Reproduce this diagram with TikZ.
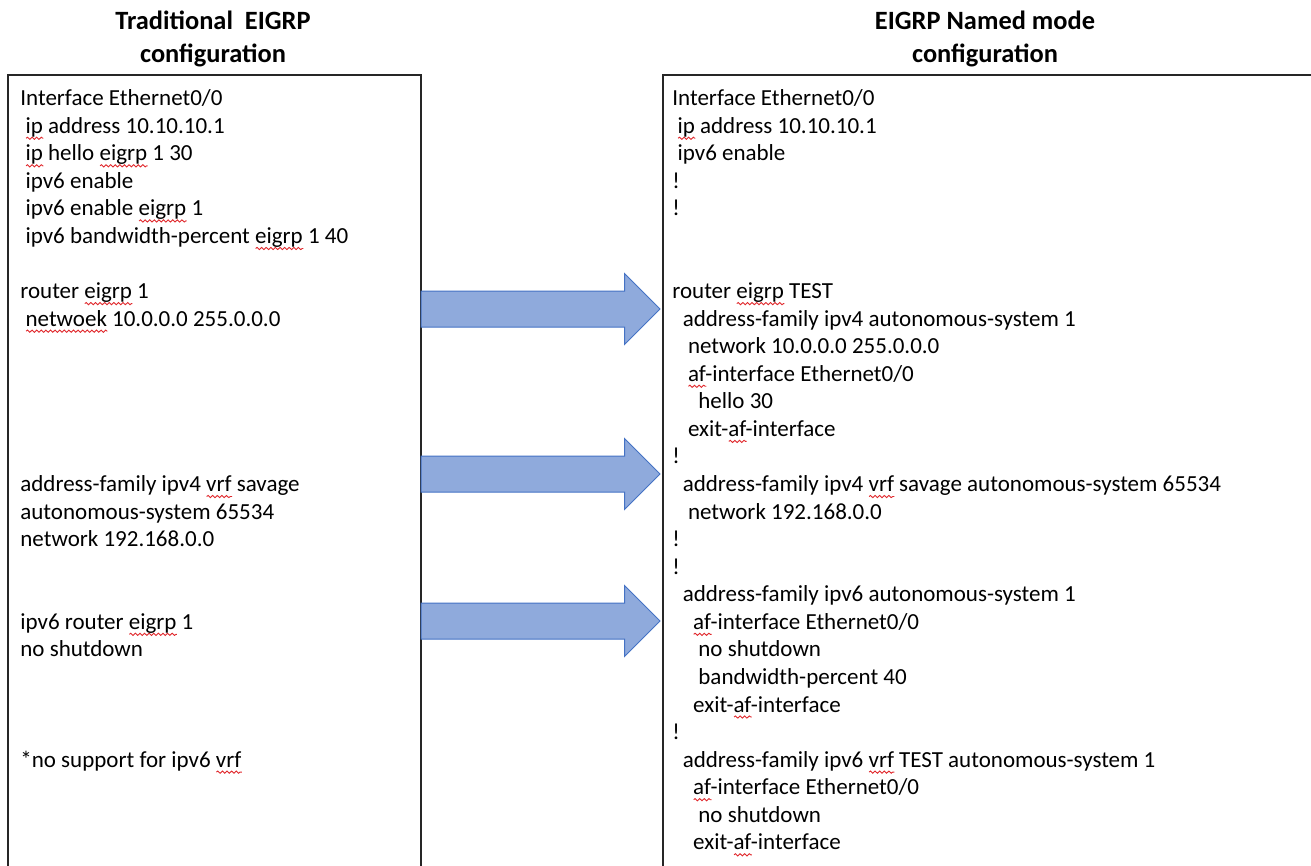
\documentclass[tikz,border=0pt]{standalone}
\usepackage{fontspec}
\setmainfont{Carlito}
\usepackage{xcolor}
\usepackage{tikz}
\usetikzlibrary{shapes.arrows,decorations.pathmorphing}
\definecolor{ArrowFill}{HTML}{8FAADC}
\definecolor{ArrowLine}{HTML}{4472C4}
\definecolor{WaveRed}{HTML}{E0282C}
\newsavebox{\wordbox}
\newlength{\wordlen}
\newcommand{\spell}[1]{\sbox{\wordbox}{#1}\setlength{\wordlen}{\wd\wordbox}%
  \rlap{\tikz[baseline=0pt]\draw[WaveRed,line width=0.45pt,decorate,decoration={snake,amplitude=0.55pt,segment length=2.3pt}] (0pt,-2.5pt) -- (\wordlen,-2.5pt);}#1}
\newcommand{\ind}[1]{\hspace*{#1\fontdimen2\font}}

\begin{document}
\begin{tikzpicture}[x=0.5pt,y=-0.5pt,
  frame/.style={draw=black!85,line width=0.9pt},
  head/.style={font=\bfseries\fontsize{13.2pt}{16.4pt}\selectfont,align=center,inner sep=0pt,anchor=north},
  code/.style={font=\fontsize{11.5pt}{13.78pt}\selectfont,align=left,inner sep=0pt,anchor=north west},
  blk/.style={single arrow,fill=ArrowFill,draw=ArrowLine,line width=0.5pt,inner xsep=0pt,inner ysep=8.75pt,single arrow head extend=8.75pt,minimum height=119.5pt,outer sep=0pt,anchor=tail}]
\useasboundingbox (0,0) rectangle (1311,866);
\clip (0,0) rectangle (1311,866);
\node[head] (tradhd) at (213,6) {\strut Traditional\ \ EIGRP\\configuration};
\node[head] (namedhd) at (985,6) {\strut EIGRP Named mode\\configuration};
\draw[frame] (8,75) rectangle (421,900);
\draw[frame] (663,75) rectangle (1330,900);
\node[code] (trad) at (20,86) {\strut Interface Ethernet0/0\\
\ind{1}\spell{ip} address 10.10.10.1\\
\ind{1}\spell{ip} hello \spell{eigrp} 1 30\\
\ind{1}ipv6 enable\\
\ind{1}ipv6 enable \spell{eigrp} 1\\
\ind{1}ipv6 bandwidth-percent \spell{eigrp} 1 40\\
\mbox{}\\
router \spell{eigrp} 1\\
\ind{1}\spell{netwoek} 10.0.0.0 255.0.0.0\\
\mbox{}\\
\mbox{}\\
\mbox{}\\
\mbox{}\\
\mbox{}\\
address-family ipv4 \spell{vrf} savage\\
autonomous-system 65534\\
network 192.168.0.0\\
\mbox{}\\
\mbox{}\\
ipv6 router \spell{eigrp} 1\\
no shutdown\\
\mbox{}\\
\mbox{}\\
\mbox{}\\
*no support for ipv6 \spell{vrf}};
\node[code] (named) at (672,86) {\strut Interface Ethernet0/0\\
\ind{1}\spell{ip} address 10.10.10.1\\
\ind{1}ipv6 enable\\
!\\
!\\
\mbox{}\\
\mbox{}\\
router \spell{eigrp} TEST\\
\ind{2}address-family ipv4 autonomous-system 1\\
\ind{3}network 10.0.0.0 255.0.0.0\\
\ind{3}\spell{af}-interface Ethernet0/0\\
\ind{5}hello 30\\
\ind{3}exit-\spell{af}-interface\\
!\\
\ind{2}address-family ipv4 \spell{vrf} savage autonomous-system 65534\\
\ind{3}network 192.168.0.0\\
!\\
!\\
\ind{2}address-family ipv6 autonomous-system 1\\
\ind{4}\spell{af}-interface Ethernet0/0\\
\ind{5}no shutdown\\
\ind{5}bandwidth-percent 40\\
\ind{4}exit-\spell{af}-interface\\
!\\
\ind{2}address-family ipv6 \spell{vrf} TEST autonomous-system 1\\
\ind{4}\spell{af}-interface Ethernet0/0\\
\ind{5}no shutdown\\
\ind{4}exit-\spell{af}-interface};
\coordinate (t1) at (421,309);
\coordinate (t2) at (421,474);
\coordinate (t3) at (421,621);
\node[blk] (ar1) at (t1) {};
\node[blk] (ar2) at (t2) {};
\node[blk] (ar3) at (t3) {};
\end{tikzpicture}
\end{document}
